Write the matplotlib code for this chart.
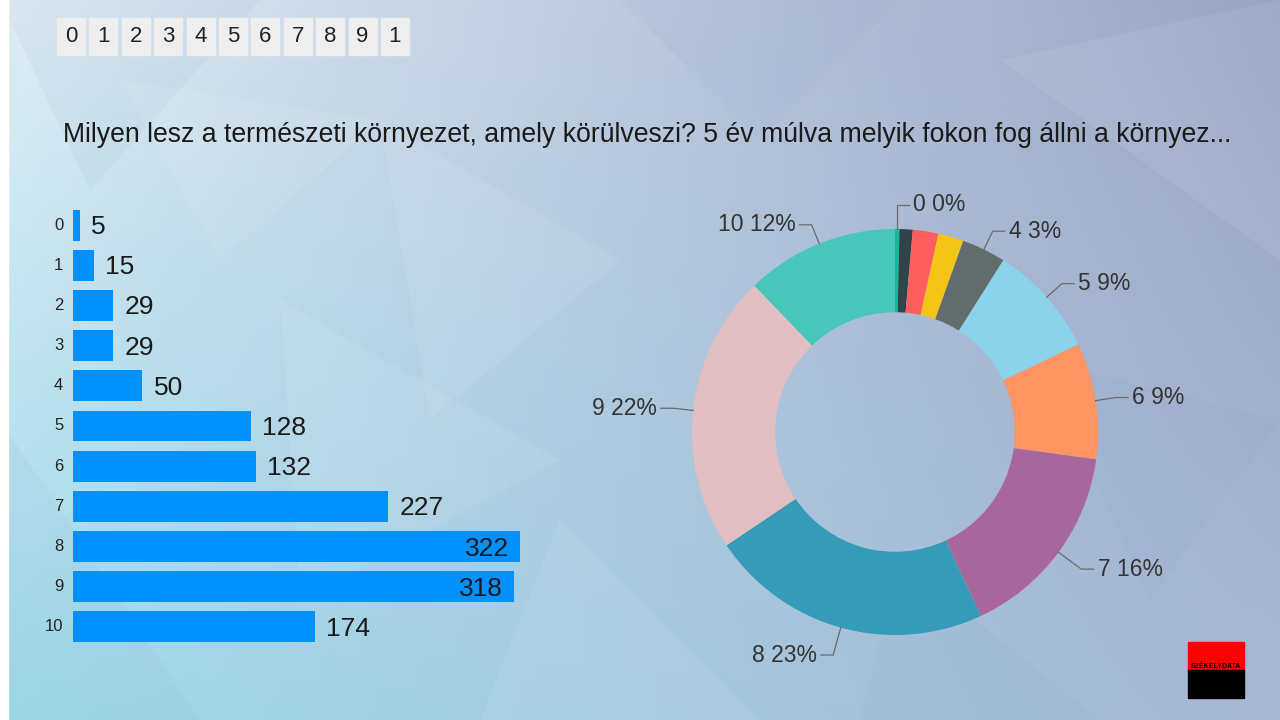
import matplotlib.pyplot as plt
import numpy as np
from matplotlib.patches import Rectangle, Polygon

plt.rcParams['font.family'] = ['Liberation Sans', 'DejaVu Sans']

# data
categories = ['0', '1', '2', '3', '4', '5', '6', '7', '8', '9', '10']
counts = [5, 15, 29, 29, 50, 128, 132, 227, 322, 318, 174]
pie_colors = ['#16b89c', '#33434a', '#ff5e5e', '#f4c515', '#626c6c', '#8bd3ea',
              '#ff9462', '#a8679b', '#369bb9', '#e0bec2', '#49c6ba']
shown_labels = ['0', '4', '5', '6', '7', '8', '9', '10']
header_boxes = ['0', '1', '2', '3', '4', '5', '6', '7', '8', '9', '1']
title = 'Milyen lesz a természeti környezet, amely körülveszi? 5 év múlva melyik fokon fog állni a környez...'

W, H = 1280, 720
fig = plt.figure(figsize=(12.8, 7.2), dpi=100)

def fax(x, y, w, h):
    # axes from pixel box (top-left origin)
    return fig.add_axes([x / W, 1 - (y + h) / H, w / W, h / H])

# background gradient
bg = fax(0, 0, W, H)
yy, xx = np.mgrid[0:1:180j, 0:1:320j]
tl = np.array([0.88, 0.93, 0.96]); tr = np.array([0.60, 0.64, 0.77])
bl = np.array([0.62, 0.86, 0.92]); br = np.array([0.66, 0.72, 0.83])
img = ((1 - xx)[..., None] * (1 - yy)[..., None] * tl + xx[..., None] * (1 - yy)[..., None] * tr
       + (1 - xx)[..., None] * yy[..., None] * bl + xx[..., None] * yy[..., None] * br)
bg.imshow(img, extent=[0, W, H, 0], aspect='auto', interpolation='bicubic')
tris = [[(0, 0), (260, 0), (90, 190)], [(380, 120), (620, 260), (430, 420)],
        [(620, 0), (900, 0), (760, 140)], [(1000, 60), (1280, 0), (1280, 260)],
        [(0, 420), (200, 720), (0, 720)], [(560, 520), (760, 720), (480, 720)],
        [(1040, 360), (1280, 420), (1150, 600)], [(280, 300), (560, 460), (300, 600)],
        [(900, 560), (1100, 720), (860, 720)], [(120, 80), (380, 120), (220, 260)]]
for i, t in enumerate(tris):
    bg.add_patch(Polygon(t, closed=True, color='white' if i % 2 else '#7f9cc0',
                         alpha=0.08, lw=0))
bg.add_patch(Rectangle((0, 0), 8, H, color='white'))
bg.set_xlim(0, W); bg.set_ylim(H, 0); bg.axis('off')

# header boxes
for i, t in enumerate(header_boxes):
    x0 = 57 + i * 32.4
    bg.add_patch(Rectangle((x0, 18), 28, 37, color='#eeeeee'))
    bg.text(x0 + 14, 37, t, ha='center', va='center', fontsize=16, color='#222222')

bg.text(63, 135, title, ha='left', va='center', fontsize=19.2, color='#1a1a1a')

# logo
bg.add_patch(Rectangle((1188, 642), 56, 28, color='#ff0000'))
bg.add_patch(Rectangle((1188, 670), 56, 28, color='#000000'))
bg.text(1216, 667, 'SZÉKELYDATA', ha='center', va='center', fontsize=5,
        color='#000000', fontweight='bold')

# bar chart
ax = fax(73, 205, 447, 442)
y = np.arange(len(categories))
ax.barh(y, counts, height=0.77, color='#0091ff')
ax.set_xlim(0, max(counts))
ax.set_ylim(len(categories) - 0.5, -0.5)
for yi, c, lab in zip(y, counts, categories):
    ax.text(-7, yi, lab, ha='right', va='center', fontsize=12, color='#222222')
    if c > 0.9 * max(counts):
        ax.text(c - 8, yi + 0.05, str(c), ha='right', va='center', fontsize=19, color='#1a1a1a')
    else:
        ax.text(c + 8, yi + 0.05, str(c), ha='left', va='center', fontsize=19, color='#1a1a1a')
ax.axis('off')

# donut
R = 203
L = 1.7
pa = fax(895 - R * L, 432 - R * L, 2 * R * L, 2 * R * L)
wedges, _ = pa.pie(counts, colors=pie_colors, startangle=90, counterclock=False,
                   radius=1.0, wedgeprops=dict(width=0.41, linewidth=0))
pa.set_xlim(-L, L); pa.set_ylim(-L, L); pa.set_aspect('equal'); pa.axis('off')
total = sum(counts)
for w, lab, c in zip(wedges, categories, counts):
    if lab not in shown_labels:
        continue
    ang = np.deg2rad((w.theta1 + w.theta2) / 2)
    ca, sa = np.cos(ang), np.sin(ang)
    x1, y1 = 1.0 * ca, 1.0 * sa
    r2 = 1.14 if sa < -0.3 else 1.1
    x2, y2 = r2 * ca, r2 * sa
    if abs(ca) < 0.05:
        x2, y2 = ca, 1.12
    side = 1 if ca >= -0.05 else -1
    x3 = x2 + side * 0.06
    pa.plot([x1, x2, x3], [y1, y2, y2], color='#6a6a6a', lw=0.9)
    pct = int(round(100 * c / total)) if lab != '4' else int(100 * c / total)
    pa.text(x3 + side * 0.02, y2, f'{lab} {pct}%', ha='left' if side > 0 else 'right',
            va='center', fontsize=16.5, color='#333333')

fig.savefig('out.png', dpi=100)
